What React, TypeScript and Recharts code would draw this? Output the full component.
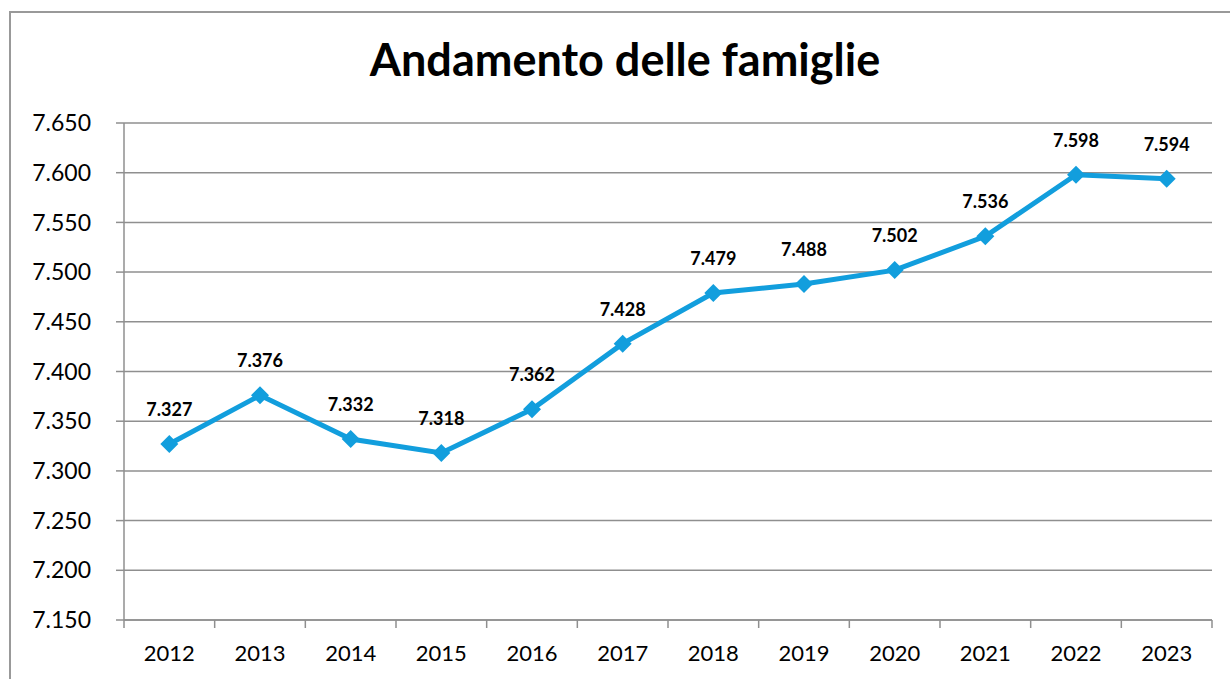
import { CartesianGrid, LabelList, Line, LineChart, XAxis, YAxis } from "recharts";

const years = ["2012", "2013", "2014", "2015", "2016", "2017", "2018", "2019", "2020", "2021", "2022", "2023"];
const famiglie = [7327, 7376, 7332, 7318, 7362, 7428, 7479, 7488, 7502, 7536, 7598, 7594];
const yTicks = [7150, 7200, 7250, 7300, 7350, 7400, 7450, 7500, 7550, 7600, 7650];

// category slots on a numeric axis so tick marks sit between years (Excel style)
const xTicks = Array.from({ length: years.length * 2 + 1 }, (_, i) => i / 2);

const data = years.map((year, i) => ({ pos: i + 0.5, year, value: famiglie[i] }));

const FONT = "Lato, 'Open Sans', sans-serif";
const GRID = "#8f8f8f";
const BLUE = "#129edd";

const fmt = (v: number) => String(Math.round(v)).replace(/\B(?=(\d{3})+(?!\d))/g, ".");

function XTick(props: any) {
  const { x, y, payload } = props;
  const v = payload.value as number;
  if (Number.isInteger(v)) {
    return <line x1={x} x2={x} y1={y} y2={y + 8} stroke={GRID} strokeWidth={1.5} />;
  }
  const label = years[Math.floor(v)];
  return (
    <text x={x} y={y + 41} textAnchor="middle" fontSize={22} fontFamily={FONT} fill="#000">
      {label}
    </text>
  );
}

function Diamond(props: any) {
  const { cx, cy } = props;
  if (cx == null || cy == null) return null;
  const r = 9;
  return <path d={`M${cx},${cy - r}L${cx + r},${cy}L${cx},${cy + r}L${cx - r},${cy}Z`} fill={BLUE} />;
}

export default function App() {
  return (
    <div style={{ position: "absolute", left: 0, top: 0, width: 1230, height: 679, background: "#fff", overflow: "hidden" }}>
      <div
        style={{
          position: "absolute",
          left: 9,
          top: 11,
          width: 1240,
          height: 700,
          borderLeft: "2px solid #999",
          borderTop: "2px solid #999",
        }}
      />
      <div
        style={{
          position: "absolute",
          left: 0,
          top: 32,
          width: 1250,
          textAlign: "center",
          fontFamily: FONT,
          fontWeight: 700,
          fontSize: 45,
          lineHeight: "54px",
          color: "#000",
        }}
      >
        Andamento delle famiglie
      </div>
      <div style={{ position: "absolute", left: 0, top: 0 }}>
        <LineChart width={1230} height={679} data={data} margin={{ top: 123, right: 18, left: 24, bottom: 9 }}>
          <CartesianGrid horizontal vertical={false} stroke={GRID} strokeWidth={1.5} />
          <XAxis
            dataKey="pos"
            type="number"
            domain={[0, years.length]}
            ticks={xTicks}
            interval={0}
            height={50}
            tickLine={false}
            tickSize={0}
            tickMargin={0}
            tick={<XTick />}
            axisLine={{ stroke: GRID, strokeWidth: 1.5 }}
          />
          <YAxis
            width={100}
            domain={[7150, 7650]}
            ticks={yTicks}
            interval={0}
            tickFormatter={fmt}
            tickSize={8}
            tickMargin={25}
            tickLine={{ stroke: GRID, strokeWidth: 1.5 }}
            axisLine={{ stroke: GRID, strokeWidth: 1.5 }}
            tick={{ fontSize: 23, fontFamily: FONT, fill: "#000" }}
          />
          <Line
            type="linear"
            dataKey="value"
            stroke={BLUE}
            strokeWidth={5}
            dot={<Diamond />}
            activeDot={false}
            isAnimationActive={false}
          >
            <LabelList
              dataKey="value"
              position="top"
              offset={28}
              formatter={(v: any) => fmt(Number(v))}
              style={{ fontSize: 18, fontWeight: 700, fontFamily: FONT, fill: "#000" }}
            />
          </Line>
        </LineChart>
      </div>
    </div>
  );
}
